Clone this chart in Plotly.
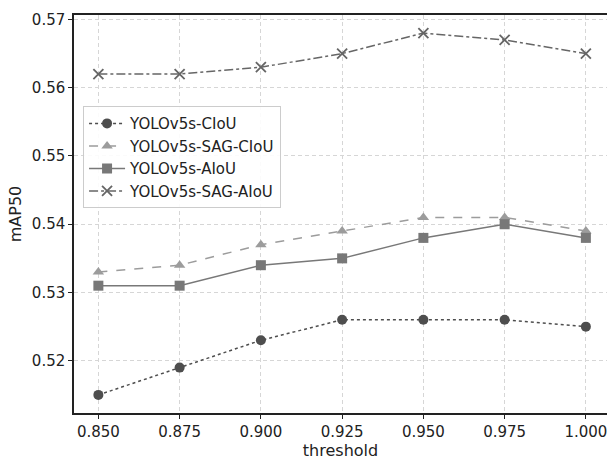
import plotly.graph_objects as go

thresholds = [0.850, 0.875, 0.900, 0.925, 0.950, 0.975, 1.000]
ciou = [0.515, 0.519, 0.523, 0.526, 0.526, 0.526, 0.525]
sag_ciou = [0.533, 0.534, 0.537, 0.539, 0.541, 0.541, 0.539]
aiou = [0.531, 0.531, 0.534, 0.535, 0.538, 0.540, 0.538]
sag_aiou = [0.562, 0.562, 0.563, 0.565, 0.568, 0.567, 0.565]
y_ticks = [0.52, 0.53, 0.54, 0.55, 0.56, 0.57]

fig = go.Figure()
fig.add_trace(go.Scatter(x=thresholds, y=ciou, name="YOLOv5s-CIoU", mode="lines+markers", legendgroup="a",
                         line=dict(color="#4e4e4e", dash="dot", width=1.5),
                         marker=dict(symbol="circle", size=10, color="#4e4e4e")))
fig.add_trace(go.Scatter(x=thresholds, y=sag_ciou, name="YOLOv5s-SAG-CIoU", mode="lines+markers", legendgroup="b",
                         line=dict(color="#9c9c9c", dash="dash", width=1.5),
                         marker=dict(symbol="triangle-up", size=10, color="#9c9c9c")))
fig.add_trace(go.Scatter(x=thresholds, y=aiou, name="YOLOv5s-AIoU", mode="lines+markers", legendgroup="c",
                         line=dict(color="#787878", dash="solid", width=1.5),
                         marker=dict(symbol="square", size=10, color="#787878")))
fig.add_trace(go.Scatter(x=thresholds, y=sag_aiou, name="YOLOv5s-SAG-AIoU", mode="lines+markers", legendgroup="d",
                         line=dict(color="#666666", dash="dashdot", width=1.5),
                         marker=dict(symbol="x-thin-open", size=10, color="#666666",
                                     line=dict(color="#666666", width=1.8))))

axis_common = dict(showline=True, linecolor="#222222", linewidth=1.5, automargin=False,
                   showgrid=True, gridcolor="#d6d6d6", griddash="4px,3px", gridwidth=1,
                   ticks="outside", ticklen=4, tickcolor="#222222", zeroline=False,
                   ticklabeloverflow="allow",
                   tickfont=dict(size=15, color="#222222"))

fig.update_xaxes(title=dict(text="threshold", font=dict(size=16, color="#222222"), standoff=2),
                 range=[0.8425, 1.0065], tickvals=thresholds, tickformat=".3f", mirror=True,
                 **axis_common)
fig.update_yaxes(title=dict(text="mAP50", font=dict(size=16, color="#222222"), standoff=6),
                 range=[0.51235, 0.57065], tickvals=y_ticks, tickformat=".2f", mirror=False,
                 **axis_common)

fig.update_layout(width=607, height=460, margin=dict(l=74, r=0, t=15, b=47),
                  plot_bgcolor="white", paper_bgcolor="white",
                  font=dict(family="DejaVu Sans", color="#222222"),
                  legend=dict(x=0.017, y=0.771, xanchor="left", yanchor="top",
                              bgcolor="rgba(255,255,255,0.9)", bordercolor="#cccccc", borderwidth=1,
                              font=dict(size=15), tracegroupgap=0, itemwidth=36),
                  showlegend=True)

fig.write_html("out.html", config={"displayModeBar": False},
               post_script="document.body.style.margin='0';")
